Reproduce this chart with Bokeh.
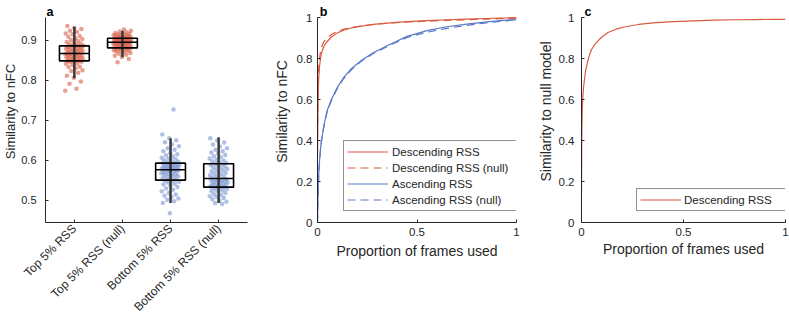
import math
from bokeh.plotting import figure
from bokeh.layouts import row
from bokeh.models import (Range1d, FixedTicker, Legend, LegendItem, Label,
                          CustomJSTickFormatter)
from bokeh.embed import file_html
from bokeh.resources import INLINE

# ---------------- data: panel a ----------------
categories = ["Top 5% RSS", "Top 5% RSS (null)", "Bottom 5% RSS", "Bottom 5% RSS (null)"]
box_q1 = [0.8485, 0.881, 0.550, 0.5325]
box_median = [0.867, 0.895, 0.576, 0.554]
box_q3 = [0.886, 0.905, 0.5925, 0.591]
whisker_low = [0.805, 0.8575, 0.4925, 0.4925]
whisker_high = [0.934, 0.924, 0.655, 0.6575]

sim_top = [0.774, 0.779, 0.791, 0.797, 0.806, 0.811, 0.819, 0.823, 0.825, 0.830, 0.833,
           0.834, 0.838, 0.841, 0.842, 0.845, 0.846, 0.847, 0.848,
           0.849, 0.850, 0.852, 0.852, 0.853, 0.855, 0.855, 0.857, 0.858, 0.858, 0.860,
           0.861, 0.862, 0.862, 0.864, 0.865, 0.866, 0.867,
           0.868, 0.869, 0.869, 0.871, 0.872, 0.874, 0.874, 0.875, 0.877, 0.877, 0.879,
           0.880, 0.881, 0.882, 0.883, 0.884, 0.885, 0.886,
           0.887, 0.889, 0.890, 0.892, 0.893, 0.896, 0.898, 0.901, 0.903, 0.905, 0.909,
           0.911, 0.915, 0.917, 0.921, 0.924, 0.928, 0.931, 0.936]
sim_top_null = [0.845, 0.853, 0.858, 0.861, 0.864, 0.866, 0.868, 0.870, 0.871, 0.873,
                0.874, 0.875, 0.876, 0.877, 0.878, 0.879, 0.879, 0.880, 0.881,
                0.882, 0.883, 0.884, 0.885, 0.886, 0.886, 0.887, 0.888, 0.889, 0.889,
                0.890, 0.891, 0.891, 0.892, 0.893, 0.893, 0.894, 0.894, 0.895,
                0.896, 0.896, 0.897, 0.897, 0.898, 0.898, 0.899, 0.899, 0.900, 0.900,
                0.901, 0.901, 0.902, 0.902, 0.903, 0.903, 0.904, 0.904, 0.905,
                0.906, 0.906, 0.907, 0.908, 0.909, 0.909, 0.910, 0.911, 0.912, 0.913,
                0.914, 0.915, 0.916, 0.917, 0.918, 0.920, 0.922, 0.924, 0.927]
sim_bottom = [0.467, 0.493, 0.497, 0.501, 0.504, 0.508, 0.511, 0.514, 0.518, 0.522, 0.526,
              0.529, 0.533, 0.536, 0.539, 0.541, 0.544, 0.546, 0.548, 0.549,
              0.551, 0.553, 0.555, 0.557, 0.558, 0.560, 0.561, 0.563, 0.564, 0.566,
              0.567, 0.568, 0.569, 0.571, 0.572, 0.573, 0.574, 0.575, 0.576,
              0.577, 0.578, 0.579, 0.579, 0.580, 0.581, 0.582, 0.583, 0.584, 0.584,
              0.585, 0.586, 0.587, 0.588, 0.589, 0.590, 0.591, 0.592, 0.592,
              0.594, 0.596, 0.598, 0.600, 0.602, 0.604, 0.606, 0.609, 0.612, 0.615,
              0.618, 0.622, 0.626, 0.630, 0.635, 0.640, 0.645, 0.650, 0.655, 0.664, 0.727]
sim_bottom_null = [0.490, 0.493, 0.496, 0.499, 0.502, 0.505, 0.508, 0.510, 0.513, 0.515,
                   0.518, 0.520, 0.522, 0.524, 0.526, 0.528, 0.529, 0.531, 0.532,
                   0.533, 0.534, 0.535, 0.537, 0.538, 0.539, 0.540, 0.541, 0.542, 0.544,
                   0.545, 0.546, 0.547, 0.548, 0.549, 0.550, 0.551, 0.552, 0.554,
                   0.556, 0.558, 0.560, 0.562, 0.564, 0.566, 0.568, 0.570, 0.572, 0.574,
                   0.576, 0.578, 0.580, 0.582, 0.584, 0.586, 0.588, 0.589, 0.591,
                   0.593, 0.595, 0.597, 0.599, 0.601, 0.604, 0.607, 0.610, 0.613, 0.616,
                   0.619, 0.622, 0.626, 0.630, 0.634, 0.639, 0.644, 0.649, 0.655]
group_values = [sim_top, sim_top_null, sim_bottom, sim_bottom_null]

# ---------------- data: panels b, c ----------------
frames_used = [0.0, 0.001, 0.002, 0.004, 0.006, 0.01, 0.015, 0.02, 0.03, 0.04, 0.05, 0.07,
               0.1, 0.13, 0.17, 0.22, 0.28, 0.35, 0.45, 0.55, 0.65, 0.75, 0.85, 0.95, 1.0]
desc_rss = [0.32, 0.45, 0.55, 0.64, 0.70, 0.76, 0.80, 0.825, 0.855, 0.872, 0.884, 0.905,
            0.925, 0.938, 0.949, 0.958, 0.966, 0.973, 0.980, 0.985, 0.989, 0.992, 0.995,
            0.998, 1.0]
desc_rss_null = [0.35, 0.50, 0.60, 0.69, 0.75, 0.80, 0.835, 0.855, 0.878, 0.892, 0.902,
                 0.917, 0.932, 0.942, 0.951, 0.959, 0.966, 0.972, 0.978, 0.982, 0.986,
                 0.989, 0.992, 0.995, 0.997]
asc_rss = [0.0, 0.06, 0.11, 0.18, 0.23, 0.30, 0.36, 0.40, 0.46, 0.51, 0.55, 0.60, 0.66,
           0.705, 0.75, 0.79, 0.828, 0.862, 0.908, 0.936, 0.955, 0.968, 0.979, 0.987, 0.99]
asc_rss_null = [0.0, 0.05, 0.10, 0.17, 0.22, 0.29, 0.35, 0.395, 0.455, 0.505, 0.545, 0.595,
                0.655, 0.70, 0.745, 0.786, 0.824, 0.858, 0.903, 0.928, 0.947, 0.962, 0.974,
                0.984, 0.99]
null_model_sim = [0.15, 0.35, 0.47, 0.56, 0.60, 0.66, 0.70, 0.74, 0.785, 0.82, 0.845, 0.875,
                  0.905, 0.927, 0.943, 0.956, 0.966, 0.974, 0.980, 0.984, 0.987, 0.989,
                  0.990, 0.991, 0.991]

# ---------------- styling ----------------
FONT = "Liberation Sans"
TXT = "#262626"
RED = "#DB5A3E"
BLUE = "#5A79C8"
RED_PT = "#D8604A"
BLUE_PT = "#7C96D4"
AXIS_TOP = 17          # pixels between canvas top and the top of each y axis
AXIS_H = 205           # pixel length of each y axis
FRAME_H = AXIS_TOP + AXIS_H
FIG_H = 322


def extended_range(lo, hi):
    # the frame reaches the canvas top; the axis itself stops at `hi`
    return Range1d(lo, lo + (hi - lo) * FRAME_H / AXIS_H)


def style(p, tick_size, label_size, tick_standoff, label_standoff):
    p.outline_line_color = None
    p.grid.visible = False
    p.background_fill_color = "white"
    p.border_fill_color = "white"
    for ax in p.axis:
        ax.axis_line_color = TXT
        ax.axis_line_width = 1
        ax.major_tick_in = 3
        ax.major_tick_out = 0
        ax.major_tick_line_color = TXT
        ax.minor_tick_line_color = None
        ax.major_label_text_font = FONT
        ax.major_label_text_font_size = tick_size
        ax.major_label_text_color = TXT
        ax.major_label_standoff = tick_standoff
        ax.axis_label_text_font = FONT
        ax.axis_label_text_font_size = label_size
        ax.axis_label_text_font_style = "normal"
        ax.axis_label_text_color = TXT
        ax.axis_label_standoff = label_standoff


def panel_letter(p, letter, dx):
    p.add_layout(Label(x=dx, y=FRAME_H - 11, x_units="screen", y_units="screen",
                       text=letter, text_font=FONT, text_font_size="12.5px",
                       text_font_style="bold", text_color="black",
                       text_baseline="alphabetic"))


def make_fig(width, left, right, y_lo, y_hi, x_lo, x_hi):
    p = figure(width=width, height=FIG_H, output_backend="svg", toolbar_location=None,
               x_range=Range1d(x_lo, x_hi), y_range=extended_range(y_lo, y_hi),
               min_border_left=left, min_border_right=right, min_border_top=0,
               min_border_bottom=FIG_H - FRAME_H)
    return p


plain_fmt = CustomJSTickFormatter(code="return String(tick)")

# ---------------- panel a ----------------
A_LO, A_HI = 0.444, 0.957
pa = make_fig(270, 41, 23, A_LO, A_HI, 0.4, 4.6)
style(pa, "11px", "13px", 9, 0)
pa.yaxis.axis_label = "Similarity to nFC"
pa.yaxis.bounds = (A_LO, A_HI)
pa.yaxis.ticker = FixedTicker(ticks=[0.5, 0.6, 0.7, 0.8, 0.9])
pa.yaxis.formatter = plain_fmt
pa.xaxis.ticker = FixedTicker(ticks=[1, 2, 3, 4])
pa.xaxis.major_label_overrides = {i + 1: c for i, c in enumerate(categories)}
pa.xaxis.major_label_orientation = math.pi / 4
pa.xaxis.major_label_text_font_size = "12px"
pa.xaxis.major_label_standoff = 4

half_w = 0.31
for g, vals in enumerate(group_values):
    xc = g + 1
    n = len(vals)
    xs = [xc + (((i * 0.6180339887 + 0.23 * g) % 1.0) - 0.5) * 0.38 for i in range(n)]
    pa.scatter(xs, vals, size=4.5, fill_color=RED_PT if g < 2 else BLUE_PT,
               fill_alpha=0.6, line_color=None)
centers = [1, 2, 3, 4]
pa.segment(x0=centers, x1=centers, y0=whisker_low, y1=whisker_high,
           line_color="#3a3a3a", line_width=2.5)
pa.quad(left=[c - half_w for c in centers], right=[c + half_w for c in centers],
        bottom=box_q1, top=box_q3, fill_color=None, line_color="black", line_width=1.6)
pa.segment(x0=[c - half_w for c in centers], x1=[c + half_w for c in centers],
           y0=box_median, y1=box_median, line_color="black", line_width=1.6)
panel_letter(pa, "a", 1)

# ---------------- panel b ----------------
pb = make_fig(260, 41, 14, 0, 1, 0, 1)
style(pb, "11.5px", "14px", 5, 4)
pb.yaxis.axis_label = "Similarity to nFC"
pb.xaxis.axis_label = "Proportion of frames used"
pb.yaxis.bounds = (0, 1)
pb.xaxis.ticker = FixedTicker(ticks=[0, 0.5, 1])
pb.yaxis.ticker = FixedTicker(ticks=[0, 0.2, 0.4, 0.6, 0.8, 1])
pb.xaxis.formatter = plain_fmt
pb.yaxis.formatter = plain_fmt
pb.xaxis.major_label_standoff = 5

r1 = pb.line(frames_used, desc_rss, line_color=RED, line_width=1.2)
r2 = pb.line(frames_used, desc_rss_null, line_color=RED, line_width=1.2, line_dash="8 5")
r3 = pb.line(frames_used, asc_rss, line_color=BLUE, line_width=1.2)
r4 = pb.line(frames_used, asc_rss_null, line_color=BLUE, line_width=1.2, line_dash="8 5")
leg_b = Legend(items=[LegendItem(label="Descending RSS", renderers=[r1]),
                      LegendItem(label="Descending RSS (null)", renderers=[r2]),
                      LegendItem(label="Ascending RSS", renderers=[r3]),
                      LegendItem(label="Ascending RSS (null)", renderers=[r4])],
               location=(26, 11), border_line_color=TXT, border_line_width=1,
               background_fill_alpha=1, label_text_font=FONT, label_text_font_size="11.5px",
               label_text_color=TXT, glyph_width=41, glyph_height=15, label_height=15,
               label_standoff=4, spacing=1, padding=3, margin=0, label_width=128)
pb.add_layout(leg_b)
panel_letter(pb, "b", 2.3)

# ---------------- panel c ----------------
pc = make_fig(259, 51, 4, 0, 1, 0, 1)
style(pc, "11.5px", "14px", 7, 2)
pc.yaxis.axis_label = "Similarity to null model"
pc.xaxis.axis_label = "Proportion of frames used"
pc.yaxis.bounds = (0, 1)
pc.xaxis.ticker = FixedTicker(ticks=[0, 0.5, 1])
pc.yaxis.ticker = FixedTicker(ticks=[0, 0.2, 0.4, 0.6, 0.8, 1])
pc.xaxis.formatter = plain_fmt
pc.yaxis.formatter = plain_fmt
pc.xaxis.major_label_standoff = 5

r5 = pc.line(frames_used, null_model_sim, line_color=RED, line_width=1.2)
leg_c = Legend(items=[LegendItem(label="Descending RSS", renderers=[r5])],
               location=(55, 11), border_line_color=TXT, border_line_width=1,
               background_fill_alpha=1, label_text_font=FONT, label_text_font_size="11.5px",
               label_text_color=TXT, glyph_width=41, glyph_height=15, label_height=15,
               label_standoff=3, spacing=0, padding=3, margin=0, label_width=101)
pc.add_layout(leg_c)
panel_letter(pc, "c", 3)

layout = row(pa, pb, pc, spacing=0)

open("out.html", "w").write(file_html(layout, INLINE))
